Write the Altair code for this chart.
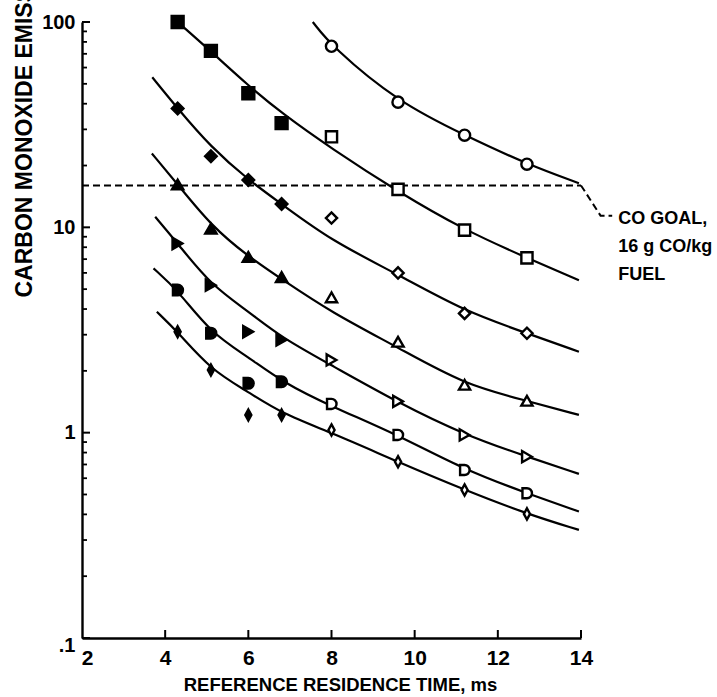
import altair as alt
import pandas as pd

FONT = "Liberation Sans, Arial, sans-serif"

# ---------------- data ----------------
x_filled = [4.3, 5.1, 6.0, 6.8]
x_open = [8.0, 9.6, 11.2, 12.7]

series = ["s0", "s1", "s2", "s3", "s4", "s5", "s6"]

filled_s1 = [100, 72.3, 45.0, 32.2]
filled_s2 = [37.9, 22.2, 17.0, 13.0]
filled_s3 = [16.2, 9.88, 7.19, 5.74]
filled_s4 = [8.35, 5.23, 3.10, 2.83]
filled_s5 = [4.95, 3.05, 1.74, 1.77]
filled_s6 = [3.10, 2.02, 1.22, 1.22]

open_s0 = [76.2, 40.7, 28.1, 20.3]
open_s1 = [27.6, 15.3, 9.69, 7.1]
open_s2 = [11.1, 6.0, 3.81, 3.05]
open_s3 = [4.56, 2.77, 1.71, 1.43]
open_s4 = [2.26, 1.42, 0.975, 0.764]
open_s5 = [1.38, 0.975, 0.658, 0.507]
open_s6 = [1.03, 0.722, 0.526, 0.402]

# fitted curves
curve_s0_x = [7.55, 8.0, 9.6, 11.2, 12.7, 13.95]
curve_s0_y = [100, 76.2, 40.7, 28.1, 20.3, 16.4]
curve_s1_x = [4.3, 5.1, 6.0, 6.8, 8.0, 9.6, 11.2, 12.7, 13.95]
curve_s1_y = [100, 72, 49, 36, 24.2, 14.9, 9.69, 7.1, 5.53]
curve_s2_x = [3.69, 4.3, 5.1, 6.0, 6.8, 8.0, 9.6, 11.2, 12.7, 13.95]
curve_s2_y = [53.8, 37.9, 24.6, 17.0, 13.0, 8.6, 5.9, 3.9, 3.05, 2.48]
curve_s3_x = [3.68, 4.3, 5.1, 6.0, 6.8, 8.0, 9.6, 11.2, 12.7, 13.95]
curve_s3_y = [22.9, 16.2, 10.2, 7.2, 5.6, 3.85, 2.6, 1.71, 1.43, 1.22]
curve_s4_x = [3.76, 4.3, 5.1, 6.0, 6.8, 8.0, 9.6, 11.2, 12.7, 13.95]
curve_s4_y = [11.25, 8.35, 5.23, 3.9, 2.9, 2.13, 1.4, 0.975, 0.764, 0.63]
curve_s5_x = [3.72, 4.3, 5.1, 6.0, 6.8, 8.0, 9.6, 11.2, 12.7, 13.95]
curve_s5_y = [6.31, 4.95, 3.05, 2.34, 1.77, 1.34, 0.975, 0.658, 0.507, 0.413]
curve_s6_x = [3.80, 4.3, 5.1, 6.0, 6.8, 8.0, 9.6, 11.2, 12.7, 13.95]
curve_s6_y = [3.88, 3.10, 2.02, 1.58, 1.24, 1.0, 0.72, 0.526, 0.402, 0.336]

goal_value = 16
goal_x = [2, 14]
leader_x = [14, 14.47, 14.75]
leader_y = [16, 11.4, 11.4]
goal_text = ["CO GOAL,", "16 g CO/kg", "FUEL"]

x_tick_values = [2, 4, 6, 8, 10, 12, 14]
x_tick_marks = [4, 6, 8, 10, 12, 14]
y_tick_values = [0.1, 1, 10, 100]
y_tick_labels = [".1", "1", "10", "100"]
y_minor_ticks = [0.2, 0.3, 0.4, 0.5, 0.6, 0.7, 0.8, 0.9,
                 2, 3, 4, 5, 6, 7, 8, 9,
                 20, 30, 40, 50, 60, 70, 80, 90]

x_title = "REFERENCE RESIDENCE TIME, ms"
y_title = "CARBON MONOXIDE EMISSION INDEX, g CO/kg FUEL"

# ---------------- tables ----------------
filled_map = {"s1": filled_s1, "s2": filled_s2, "s3": filled_s3,
              "s4": filled_s4, "s5": filled_s5, "s6": filled_s6}
open_map = {"s0": open_s0, "s1": open_s1, "s2": open_s2, "s3": open_s3,
            "s4": open_s4, "s5": open_s5, "s6": open_s6}
curve_map = {"s0": (curve_s0_x, curve_s0_y), "s1": (curve_s1_x, curve_s1_y),
             "s2": (curve_s2_x, curve_s2_y), "s3": (curve_s3_x, curve_s3_y),
             "s4": (curve_s4_x, curve_s4_y), "s5": (curve_s5_x, curve_s5_y),
             "s6": (curve_s6_x, curve_s6_y)}

filled_df = pd.DataFrame([{"x": x, "y": y, "series": s}
                          for s, vals in filled_map.items() for x, y in zip(x_filled, vals)])
open_df = pd.DataFrame([{"x": x, "y": y, "series": s}
                        for s, vals in open_map.items() for x, y in zip(x_open, vals)])
curve_df = pd.DataFrame([{"x": x, "y": y, "series": s, "order": i}
                         for s, (xs, ys) in curve_map.items() for i, (x, y) in enumerate(zip(xs, ys))])
goal_df = pd.DataFrame({"x": goal_x, "y": [goal_value] * len(goal_x)})
leader_df = pd.DataFrame({"x": leader_x, "y": leader_y, "order": range(len(leader_x))})
text_df = pd.DataFrame({"x": [leader_x[-1]], "y": [leader_y[-1]]})
ymaj_df = pd.DataFrame({"y": y_tick_values})
ymin_df = pd.DataFrame({"y": y_minor_ticks})
xtick_df = pd.DataFrame({"x": x_tick_marks})

W, H = 499, 616

label_expr = " : ".join(
    f"abs(datum.value - {v}) < {v * 0.01} ? '{l}'" for v, l in zip(y_tick_values, y_tick_labels)
) + " : ''"

x_enc = alt.X("x:Q", scale=alt.Scale(domain=[2, 14], nice=False, zero=False),
              axis=alt.Axis(values=x_tick_values, ticks=False, grid=False,
                            domainColor="black", domainWidth=2.4,
                            labelFont=FONT, labelFontSize=21, labelFontWeight="bold",
                            labelColor="black", labelPadding=9, labelFlush=False,
                            labelOffset={"condition": {"test": "datum.value == 2", "value": 5}, "value": 0},
                            title=x_title, titleFont=FONT, titleFontSize=18.5,
                            titleFontWeight="bold", titleColor="black",
                            titleX=258, titleY=52, titleAlign="center",
                            titleBaseline="alphabetic"))
y_enc = alt.Y("y:Q", scale=alt.Scale(type="log", domain=[0.1, 100], nice=False),
              axis=alt.Axis(values=y_tick_values, labelExpr=label_expr, ticks=False,
                            grid=False, domainColor="black", domainWidth=2.4,
                            labelFont=FONT, labelFontSize=20, labelFontWeight="bold",
                            labelColor="black", labelPadding=7, labelFlush=False,
                            labelOffset={"condition": {"test": "datum.value < 0.5", "value": 7}, "value": 0},
                            title=y_title, titleFont=FONT, titleFontSize=23,
                            titleFontWeight="bold", titleColor="black",
                            titleAngle=270, titleAlign="left", titleBaseline="middle",
                            titleX=-58, titleY=275))

shape_paths = ["circle", "square", "diamond", "triangle-up", "triangle-right",
               "M -0.8 -0.9 L 0 -0.9 A 0.9 0.9 0 0 1 0 0.9 L -0.8 0.9 Z",
               "M 0 -1 L 0.55 0 L 0 1 L -0.55 0 Z"]
shape_enc = alt.Shape("series:N", scale=alt.Scale(domain=series, range=shape_paths), legend=None)

curves = alt.Chart(curve_df).mark_line(color="black", strokeWidth=2.2, interpolate="basis").encode(
    x=x_enc, y=y_enc, detail="series:N", order="order:Q")

filled_pts = alt.Chart(filled_df).mark_point(filled=True, fill="black", stroke="black",
                                             strokeWidth=1.5, size=165, opacity=1).encode(
    x=x_enc, y=y_enc, shape=shape_enc)

open_pts = alt.Chart(open_df).mark_point(filled=True, fill="white", stroke="black",
                                         strokeWidth=2.4, size=125, opacity=1).encode(
    x=x_enc, y=y_enc, shape=shape_enc)

goal = alt.Chart(goal_df).mark_line(color="black", strokeWidth=2, strokeDash=[7, 4]).encode(
    x=x_enc, y=y_enc)
leader = alt.Chart(leader_df).mark_line(color="black", strokeWidth=2, strokeDash=[7, 4]).encode(
    x=x_enc, y=y_enc, order="order:Q")
goal_label = alt.Chart(text_df).mark_text(
    text=goal_text, align="left", baseline="alphabetic", font=FONT, fontSize=18,
    fontWeight="bold", color="black", lineHeight=28, dx=6, dy=8).encode(x=x_enc, y=y_enc)

ymaj = alt.Chart(ymaj_df).mark_rule(color="black", strokeWidth=2).encode(
    y=y_enc, x=alt.value(0), x2=alt.value(8))
ymin = alt.Chart(ymin_df).mark_rule(color="black", strokeWidth=1.8).encode(
    y=y_enc, x=alt.value(0), x2=alt.value(5))
xticks = alt.Chart(xtick_df).mark_rule(color="black", strokeWidth=2).encode(
    x=x_enc, y=alt.value(H), y2=alt.value(H - 8))

chart = alt.layer(goal, leader, curves, open_pts, filled_pts, goal_label, ymaj, ymin, xticks).properties(
    width=W, height=H,
    autosize=alt.AutoSizeParams(type="none"),
    padding={"left": 82, "top": 22, "right": 136, "bottom": 59},
    background="white",
).configure_view(stroke=None)

chart.save("out.html", embed_options={"renderer": "svg", "actions": False})
